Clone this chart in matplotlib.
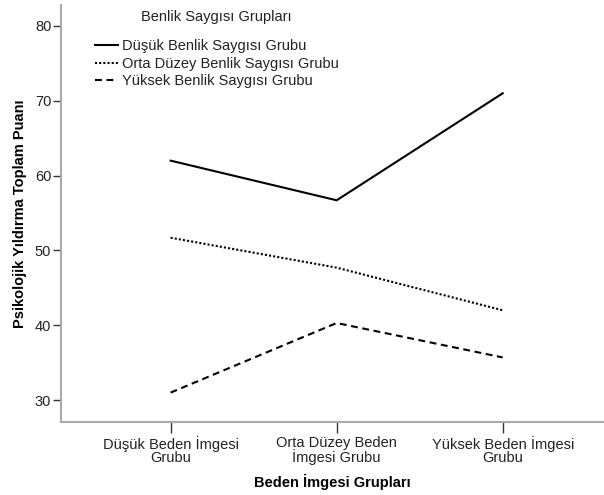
import numpy as np
import matplotlib.pyplot as plt
from matplotlib.lines import Line2D

plt.rcParams['font.family'] = ['Liberation Sans', 'DejaVu Sans']

categories = ['Düşük Beden İmgesi\nGrubu', 'Orta Düzey Beden\nİmgesi Grubu', 'Yüksek Beden İmgesi\nGrubu']
series_names = ['Düşük Benlik Saygısı Grubu', 'Orta Düzey Benlik Saygısı Grubu', 'Yüksek Benlik Saygısı Grubu']
dusuk = [62.0, 56.7, 71.0]
orta = [51.7, 47.7, 42.0]
yuksek = [31.0, 40.3, 35.7]
yticks = [30, 40, 50, 60, 70, 80]

fs = 10.5
solid = '-'
dotted = (0, (1, 1))
dashed = (0, (3.3, 2.2))

fig = plt.figure(figsize=(6.04, 4.95), dpi=100)
ax = fig.add_axes([61 / 604, 73 / 495, 1 - 61 / 604, 417 / 495])

x = np.arange(len(categories))
ax.plot(x, dusuk, color='black', lw=1.5, ls=solid)
ax.plot(x, orta, color='black', lw=1.5, ls=dotted)
ax.plot(x, yuksek, color='black', lw=1.5, ls=dashed)

ax.set_xlim(-0.66, 2.61)
ax.set_ylim(27.07, 82.8)
ax.set_xticks(x)
ax.set_xticklabels(categories, fontsize=fs, color='#222222', linespacing=0.95)
ax.set_yticks(yticks)
ax.set_yticklabels([str(v) for v in yticks], fontsize=fs, color='#222222')
ax.tick_params(axis='y', direction='out', length=6, width=1, color='#333333', pad=1)
ax.tick_params(axis='x', direction='out', length=8, width=1, color='#333333', pad=2)

for s in ['top', 'right']:
    ax.spines[s].set_visible(False)
for s in ['left', 'bottom']:
    ax.spines[s].set_color('#aaaaaa')
    ax.spines[s].set_linewidth(1.5)

ax.set_xlabel('Beden İmgesi Grupları', fontsize=fs, fontweight='bold', labelpad=6)
ax.set_ylabel('Psikolojik Yıldırma Toplam Puanı', fontsize=fs, fontweight='bold', labelpad=6)

handles = [
    Line2D([], [], color='black', lw=1.5, ls=solid),
    Line2D([], [], color='black', lw=1.5, ls=dotted),
    Line2D([], [], color='black', lw=1.5, ls=dashed),
]
leg = ax.legend(handles, series_names, frameon=False, fontsize=fs, loc='upper left',
                bbox_to_anchor=(34 / 543, 383 / 417), handlelength=1.6, handletextpad=0.25,
                labelspacing=0.25, borderaxespad=0, borderpad=0)
for t in leg.get_texts():
    t.set_color('#222222')
ax.text(155 / 543, 405 / 417, 'Benlik Saygısı Grupları', transform=ax.transAxes,
        ha='center', va='center', fontsize=fs, color='#222222')

fig.savefig('out.png', dpi=100)
